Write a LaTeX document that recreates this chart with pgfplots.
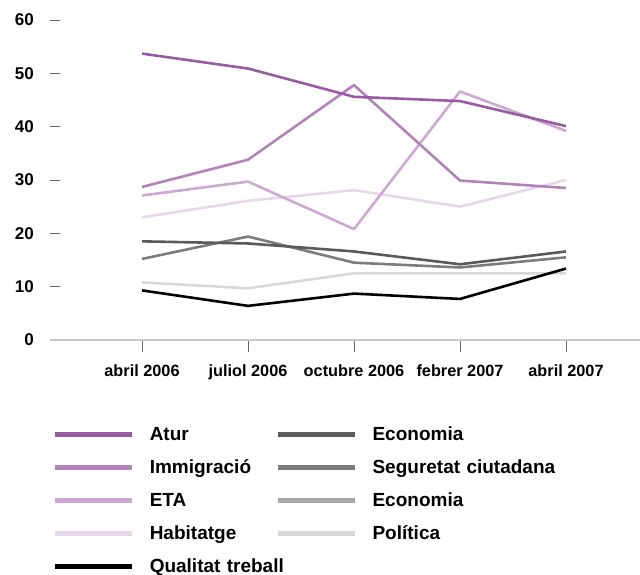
\documentclass[border=0pt]{standalone}
\usepackage{pgfplots}
\pgfplotsset{compat=1.18}
\usepackage{fontspec}
\setmainfont{Liberation Sans}

\definecolor{atur}{HTML}{9A5AA3}
\definecolor{immig}{HTML}{B283BA}
\definecolor{eta}{HTML}{CDA8D3}
\definecolor{habit}{HTML}{E8D7EA}
\definecolor{econA}{HTML}{5A5A5C}
\definecolor{segur}{HTML}{7C7C7E}
\definecolor{econB}{HTML}{A6A6A8}
\definecolor{polit}{HTML}{D8D8D8}
\definecolor{axisgray}{HTML}{C8C8C8}
\definecolor{tickgray}{HTML}{666666}

\begin{document}
\begin{tikzpicture}
\useasboundingbox (-50pt,-234pt) rectangle (590pt,340pt);
\begin{axis}[
    scale only axis,
    width=590pt, height=320pt,
    xmin=-0.868, xmax=4.698,
    ymin=0, ymax=60,
    axis x line*=bottom, axis y line*=left,
    axis line style={-},
    x axis line style={draw=axisgray, line width=1.8pt},
    y axis line style={draw=none},
    xtick={0,1,2,3,4},
    xticklabels={abril 2006, juliol 2006, octubre 2006, febrer 2007, abril 2007},
    ytick={0,10,20,30,40,50,60},
    xtick align=outside, ytick align=inside,
    xtick style={draw=tickgray, line width=0.9pt, /pgfplots/major tick length=12pt},
    ytick style={draw=tickgray, line width=0.9pt, /pgfplots/major tick length=10pt},
    /pgf/number format/assume math mode=true,
    xticklabel style={font=\fontsize{16.3}{16.3}\selectfont\bfseries, inner sep=0pt, yshift=-20pt},
    yticklabel style={font=\fontsize{17}{17}\selectfont\bfseries, inner sep=0pt, xshift=-16pt},
    every axis plot/.append style={line width=2.6pt, line join=round},
    legend columns=2,
    legend cell align=left,
    legend image code/.code={\draw[#1, line width=5pt] (0pt,0pt) -- (77pt,0pt); \path (93pt,0pt);},
    legend style={at={(0.005,-0.2725)}, anchor=north west, draw=none, fill=none,
        inner sep=0pt, outer sep=0pt, column sep=0pt, row sep=19.4pt,
        font=\fontsize{19}{19}\selectfont\bfseries,
        nodes={inner sep=0pt, text width=126pt, text height=13.6pt, text depth=0pt, align=left}},
]
% legend, filled row by row
\addlegendimage{atur}\addlegendentry{\mbox{Atur}}
\addlegendimage{econA}\addlegendentry{\mbox{Economia}}
\addlegendimage{immig}\addlegendentry{\mbox{Immigració}}
\addlegendimage{segur}\addlegendentry{\mbox{Seguretat ciutadana}}
\addlegendimage{eta}\addlegendentry{\mbox{ETA}}
\addlegendimage{econB}\addlegendentry{\mbox{Economia}}
\addlegendimage{habit}\addlegendentry{\mbox{Habitatge}}
\addlegendimage{polit}\addlegendentry{\mbox{Política}}
\addlegendimage{black}\addlegendentry{\mbox{Qualitat treball}}

% Política
\addplot[polit, forget plot] coordinates {(0,10.8) (1,9.7) (2,12.5) (3,12.5) (4,12.5)};
% Seguretat ciutadana
\addplot[segur, forget plot] coordinates {(0,15.2) (1,19.4) (2,14.5) (3,13.6) (4,15.5)};
% Economia
\addplot[econA, forget plot] coordinates {(0,18.5) (1,18.1) (2,16.6) (3,14.2) (4,16.6)};
% Habitatge
\addplot[habit, forget plot] coordinates {(0,23.0) (1,26.1) (2,28.1) (3,25.0) (4,30.0)};
% ETA
\addplot[eta, forget plot] coordinates {(0,27.1) (1,29.7) (2,20.8) (3,46.6) (4,39.2)};
% Immigració
\addplot[immig, forget plot] coordinates {(0,28.7) (1,33.8) (2,47.8) (3,29.9) (4,28.5)};
% Atur
\addplot[atur, forget plot] coordinates {(0,53.7) (1,50.9) (2,45.6) (3,44.8) (4,40.1)};
% Qualitat treball
\addplot[black, forget plot] coordinates {(0,9.3) (1,6.4) (2,8.7) (3,7.7) (4,13.4)};
\end{axis}
\end{tikzpicture}
\end{document}
